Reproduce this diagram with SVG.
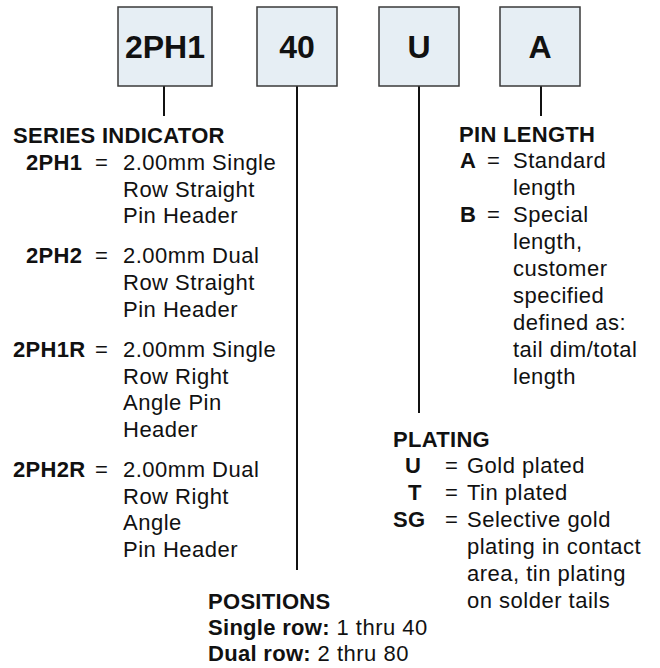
<svg xmlns="http://www.w3.org/2000/svg" width="660" height="668" viewBox="0 0 660 668">
<style>
.box{fill:#e6eef4;stroke:#3a3a3a;stroke-width:1.5}
.bt{font-family:"Liberation Sans",Arial,Helvetica,sans-serif;font-size:32px;font-weight:bold;fill:#111;text-anchor:middle;letter-spacing:0}
.c{stroke:#111;stroke-width:2;fill:none}
text{font-family:"Liberation Sans",Arial,Helvetica,sans-serif;font-size:22px;fill:#111;letter-spacing:0.5px}
.b{font-weight:bold;letter-spacing:0.3px}
</style>
<rect width="660" height="668" fill="#fff"/>
<g id="connectors">
<line class="c" x1="164" y1="86" x2="164" y2="116"/>
<line class="c" x1="297" y1="86" x2="297" y2="570"/>
<line class="c" x1="419" y1="86" x2="419" y2="413"/>
<line class="c" x1="541" y1="86" x2="541" y2="116"/>
</g>
<g id="box-series"><rect class="box" x="118" y="7" width="94" height="79"/><text class="bt" x="165" y="58">2PH1</text></g>
<g id="box-positions"><rect class="box" x="257" y="7" width="80" height="79"/><text class="bt" x="297" y="58">40</text></g>
<g id="box-plating"><rect class="box" x="379" y="7" width="80" height="79"/><text class="bt" x="419" y="58">U</text></g>
<g id="box-pinlength"><rect class="box" x="500" y="7" width="80" height="79"/><text class="bt" x="540" y="58">A</text></g>
<g id="series-indicator">
<text class="b" x="13" y="143">SERIES INDICATOR</text>
<text class="b" x="26" y="170">2PH1</text><text x="95" y="170">=</text>
<text x="123" y="170">2.00mm Single</text>
<text x="123" y="196.7">Row Straight</text>
<text x="123" y="223.4">Pin Header</text>
<text class="b" x="26" y="263.4">2PH2</text><text x="95" y="263.4">=</text>
<text x="123" y="263.4">2.00mm Dual</text>
<text x="123" y="290.1">Row Straight</text>
<text x="123" y="316.8">Pin Header</text>
<text class="b" x="13" y="356.8">2PH1R</text><text x="95" y="356.8">=</text>
<text x="123" y="356.8">2.00mm Single</text>
<text x="123" y="383.5">Row Right</text>
<text x="123" y="410.2">Angle Pin</text>
<text x="123" y="436.9">Header</text>
<text class="b" x="13" y="476.9">2PH2R</text><text x="95" y="476.9">=</text>
<text x="123" y="476.9">2.00mm Dual</text>
<text x="123" y="503.6">Row Right</text>
<text x="123" y="530.3">Angle</text>
<text x="123" y="557">Pin Header</text>
</g>
<g id="pin-length">
<text class="b" x="459" y="142">PIN LENGTH</text>
<text class="b" x="460" y="168">A</text><text x="487" y="168">=</text>
<text x="513" y="168">Standard</text>
<text x="513" y="195">length</text>
<text class="b" x="460" y="222">B</text><text x="487" y="222">=</text>
<text x="513" y="222">Special</text>
<text x="513" y="249">length,</text>
<text x="513" y="276">customer</text>
<text x="513" y="303">specified</text>
<text x="513" y="330">defined as:</text>
<text x="513" y="357">tail dim/total</text>
<text x="513" y="384">length</text>
</g>
<g id="plating">
<text class="b" x="393" y="447">PLATING</text>
<text class="b" x="405" y="473">U</text><text x="445" y="473">=</text>
<text x="467" y="473">Gold plated</text>
<text class="b" x="408" y="500">T</text><text x="445" y="500">=</text>
<text x="467" y="500">Tin plated</text>
<text class="b" x="393" y="527">SG</text><text x="445" y="527">=</text>
<text x="467" y="527">Selective gold</text>
<text x="467" y="554">plating in contact</text>
<text x="467" y="581">area, tin plating</text>
<text x="467" y="608">on solder tails</text>
</g>
<g id="positions">
<text class="b" x="208" y="609">POSITIONS</text>
<text x="208" y="635"><tspan class="b">Single row:</tspan> 1 thru 40</text>
<text x="208" y="661"><tspan class="b">Dual row:</tspan> 2 thru 80</text>
</g>
</svg>
